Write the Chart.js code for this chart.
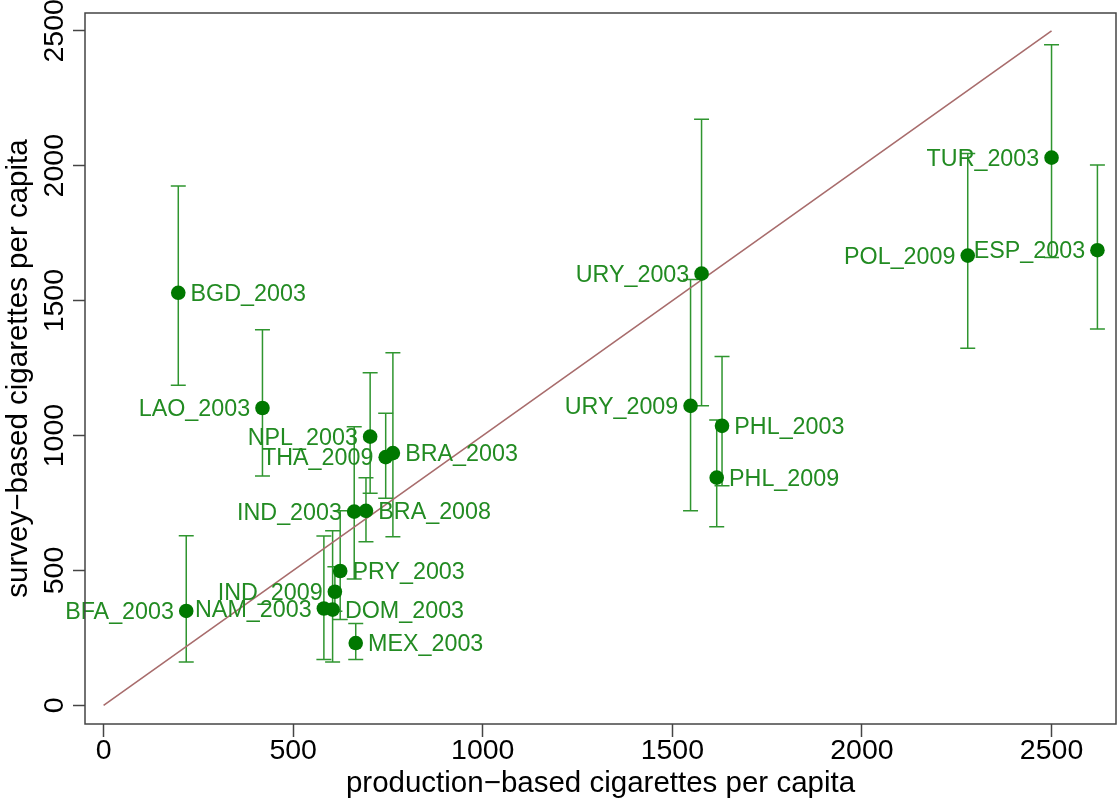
<!DOCTYPE html>
<html>
<head>
<meta charset="utf-8">
<script src="https://cdn.jsdelivr.net/npm/chart.js@4.4.1/dist/chart.umd.min.js"></script>
<style>
  html, body { margin: 0; padding: 0; background: #ffffff; }
  #wrap { width: 1118px; height: 804px; }
</style>
</head>
<body>
<div id="wrap"><canvas id="c" width="1118" height="804"></canvas></div>
<script>
// ---- data ----
const countryLabels = ["BGD_2003","LAO_2003","NPL_2003","THA_2009","BRA_2003","IND_2003","BRA_2008","PRY_2003","IND_2009","NAM_2003","DOM_2003","MEX_2003","BFA_2003","URY_2003","URY_2009","PHL_2003","PHL_2009","TUR_2003","POL_2009","ESP_2003"];
const productionPerCapita = [197, 419, 703, 744, 763, 661, 692, 624, 610, 581, 604, 665, 218, 1577, 1548, 1631, 1617, 2500, 2279, 2621];
const surveyPerCapita     = [1529, 1102, 996, 920, 935, 718, 721, 498, 421, 359, 355, 231, 350, 1600, 1110, 1036, 844, 2030, 1667, 1687];
const surveyLower         = [1186, 850, 786, 768, 625, 468, 606, 318, 349, 170, 161, 170, 161, 1110, 721, 814, 662, 1660, 1324, 1395];
const surveyUpper         = [1925, 1392, 1233, 1083, 1307, 1033, 844, 721, 514, 628, 647, 303, 629, 2172, 1578, 1293, 1058, 2448, 2045, 2003];
// R text() pos: 2 = left of point, 4 = right of point
const labelPos            = [4, 2, 2, 2, 4, 2, 4, 4, 2, 2, 4, 4, 2, 2, 2, 4, 4, 2, 2, 2];
const refLineX = [0, 2500];
const refLineY = [0, 2500];
const xTicks = [0, 500, 1000, 1500, 2000, 2500];
const yTicks = [0, 500, 1000, 1500, 2000, 2500];
const xTitle = "production\u2212based cigarettes per capita";
const yTitle = "survey\u2212based cigarettes per capita";

// ---- styles ----
const FONT = "'Liberation Sans', Arial, sans-serif";
const DOT_COLOR = "#007800";
const BAR_COLOR = "#2f952f";
const TEXT_COLOR = "#228B22";
const LINE_COLOR = "#a86c6c";
const AXIS_COLOR = "#444444";

const errorBarPlugin = {
  id: 'errorBars',
  beforeDatasetsDraw(chart) {
    const {ctx, scales: {x, y}} = chart;
    ctx.save();
    ctx.strokeStyle = BAR_COLOR;
    ctx.lineWidth = 1.5;
    const cap = 7.5;
    for (let i = 0; i < productionPerCapita.length; i++) {
      const px = x.getPixelForValue(productionPerCapita[i]);
      const lo = y.getPixelForValue(surveyLower[i]);
      const hi = y.getPixelForValue(surveyUpper[i]);
      ctx.beginPath();
      ctx.moveTo(px, lo); ctx.lineTo(px, hi);
      ctx.moveTo(px - cap, lo); ctx.lineTo(px + cap, lo);
      ctx.moveTo(px - cap, hi); ctx.lineTo(px + cap, hi);
      ctx.stroke();
    }
    ctx.restore();
  }
};

const pointLabelPlugin = {
  id: 'pointLabels',
  afterDatasetsDraw(chart) {
    const {ctx, scales: {x, y}} = chart;
    ctx.save();
    ctx.font = "23.3px " + FONT;
    ctx.fillStyle = TEXT_COLOR;
    ctx.textBaseline = 'alphabetic';
    const off = 12.3;
    for (let i = 0; i < countryLabels.length; i++) {
      const px = x.getPixelForValue(productionPerCapita[i]);
      const py = y.getPixelForValue(surveyPerCapita[i]);
      if (labelPos[i] === 2) {
        ctx.textAlign = 'right';
        ctx.fillText(countryLabels[i], px - off, py + 8.3);
      } else {
        ctx.textAlign = 'left';
        ctx.fillText(countryLabels[i], px + off, py + 8.3);
      }
    }
    ctx.restore();
  }
};

const framePlugin = {
  id: 'frame',
  afterDraw(chart) {
    const {ctx, chartArea: a} = chart;
    ctx.save();
    ctx.strokeStyle = AXIS_COLOR;
    ctx.lineWidth = 1.5;
    ctx.strokeRect(a.left, a.top, a.right - a.left, a.bottom - a.top);
    ctx.restore();
  }
};

new Chart(document.getElementById('c'), {
  type: 'scatter',
  data: {
    datasets: [
      {
        label: 'countries',
        data: productionPerCapita.map((v, i) => ({x: v, y: surveyPerCapita[i]})),
        pointRadius: 7.3,
        pointBorderWidth: 0,
        pointBackgroundColor: DOT_COLOR,
        backgroundColor: DOT_COLOR,
        order: 0
      },
      {
        label: 'reference',
        data: refLineX.map((v, i) => ({x: v, y: refLineY[i]})),
        showLine: true,
        borderColor: LINE_COLOR,
        borderWidth: 1.6,
        pointRadius: 0,
        fill: false,
        order: 1
      }
    ]
  },
  options: {
    responsive: false,
    animation: false,
    devicePixelRatio: 1,
    events: [],
    layout: { autoPadding: false, padding: { top: 13, right: 2, left: 0, bottom: 0 } },
    plugins: { legend: { display: false }, tooltip: { enabled: false } },
    scales: {
      x: {
        type: 'linear',
        min: -49,
        max: 2670,
        afterBuildTicks: s => { s.ticks = xTicks.map(v => ({value: v})); },
        afterFit: s => { s.height = 80; s.paddingLeft = 0; s.paddingRight = 0; },
        border: { display: false },
        grid: { display: true, drawOnChartArea: false, drawTicks: true, tickLength: 13, tickColor: AXIS_COLOR, tickWidth: 1.5 },
        ticks: { color: '#000', autoSkip: false, maxRotation: 0, padding: 0,
                 callback: v => String(v),
                 font: { family: FONT, size: 28.5, lineHeight: 1 } },
        title: { display: true, text: xTitle, color: '#000',
                 font: { family: FONT, size: 29.5, lineHeight: 1.2 }, padding: { top: 0, bottom: 2 } }
      },
      y: {
        type: 'linear',
        min: -69,
        max: 2566,
        afterBuildTicks: s => { s.ticks = yTicks.map(v => ({value: v})); },
        afterFit: s => { s.width = 85; s.paddingTop = 0; s.paddingBottom = 0; },
        border: { display: false },
        grid: { display: true, drawOnChartArea: false, drawTicks: true, tickLength: 12, tickColor: AXIS_COLOR, tickWidth: 1.5 },
        ticks: { color: '#000', autoSkip: false, minRotation: 90, maxRotation: 90, crossAlign: 'center', padding: -13.5,
                 callback: v => String(v),
                 font: { family: FONT, size: 28.5, lineHeight: 1 } },
        title: { display: true, text: yTitle, color: '#000',
                 font: { family: FONT, size: 29.5, lineHeight: 1.2 }, padding: { top: 1, bottom: 0 } }
      }
    }
  },
  plugins: [errorBarPlugin, pointLabelPlugin, framePlugin]
});
</script>
</body>
</html>
